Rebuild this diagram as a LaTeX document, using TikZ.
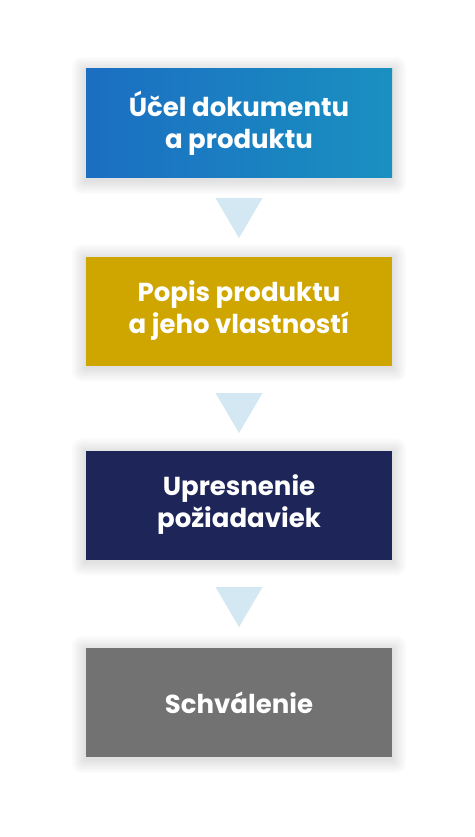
\documentclass[tikz,border=0pt]{standalone}
\usepackage{fontspec}
\setmainfont{Poppins}[UprightFont=* Bold]
\usetikzlibrary{backgrounds}
\definecolor{cA}{HTML}{1B6EC2}
\definecolor{cB}{HTML}{1A90C1}
\definecolor{cGold}{HTML}{CFA500}
\definecolor{cNavy}{HTML}{1E2558}
\definecolor{cGray}{HTML}{727272}
\definecolor{cTri}{HTML}{D3E8F2}
\tikzset{
  stepbox/.style={minimum width=306pt, minimum height=109pt, inner sep=0pt,
    text=white, align=center, font=\fontsize{26}{32}\selectfont},
  tri/.style={fill=cTri, draw=none}
}
\newcommand{\softshadow}[1]{%
  \foreach \k in {1,...,10}{%
    \fill[black, opacity=0.011, rounded corners=\k pt]
      ([xshift=-\k*1.4pt, yshift=\k*1.4pt-2pt]#1.north west) rectangle
      ([xshift=\k*1.4pt, yshift=-\k*1.4pt-2pt]#1.south east);
  }%
}
\begin{document}
\begin{tikzpicture}[x=1pt,y=-1pt]
\useasboundingbox (0,0) rectangle (474,837);
\node[stepbox, left color=cA, right color=cB] (s1) at (239,123.5) {Účel dokumentu\\a produktu};
\node[stepbox, fill=cGold] (s2) at (239,311) {Popis produktu\\a jeho vlastností};
\node[stepbox, fill=cNavy] (s3) at (239,505) {Upresnenie\\požiadaviek};
\node[stepbox, fill=cGray] (s4) at (239,702.5) {Schválenie};
\begin{scope}[on background layer]
\fill[white] (0,0) rectangle (474,837);
\softshadow{s1}\softshadow{s2}\softshadow{s3}\softshadow{s4}
\end{scope}
\fill[tri] (215.5,198) -- (262.5,198) -- (239,238) -- cycle;
\fill[tri] (215.5,393) -- (262.5,393) -- (239,433) -- cycle;
\fill[tri] (215.5,587) -- (262.5,587) -- (239,627) -- cycle;
\end{tikzpicture}
\end{document}
